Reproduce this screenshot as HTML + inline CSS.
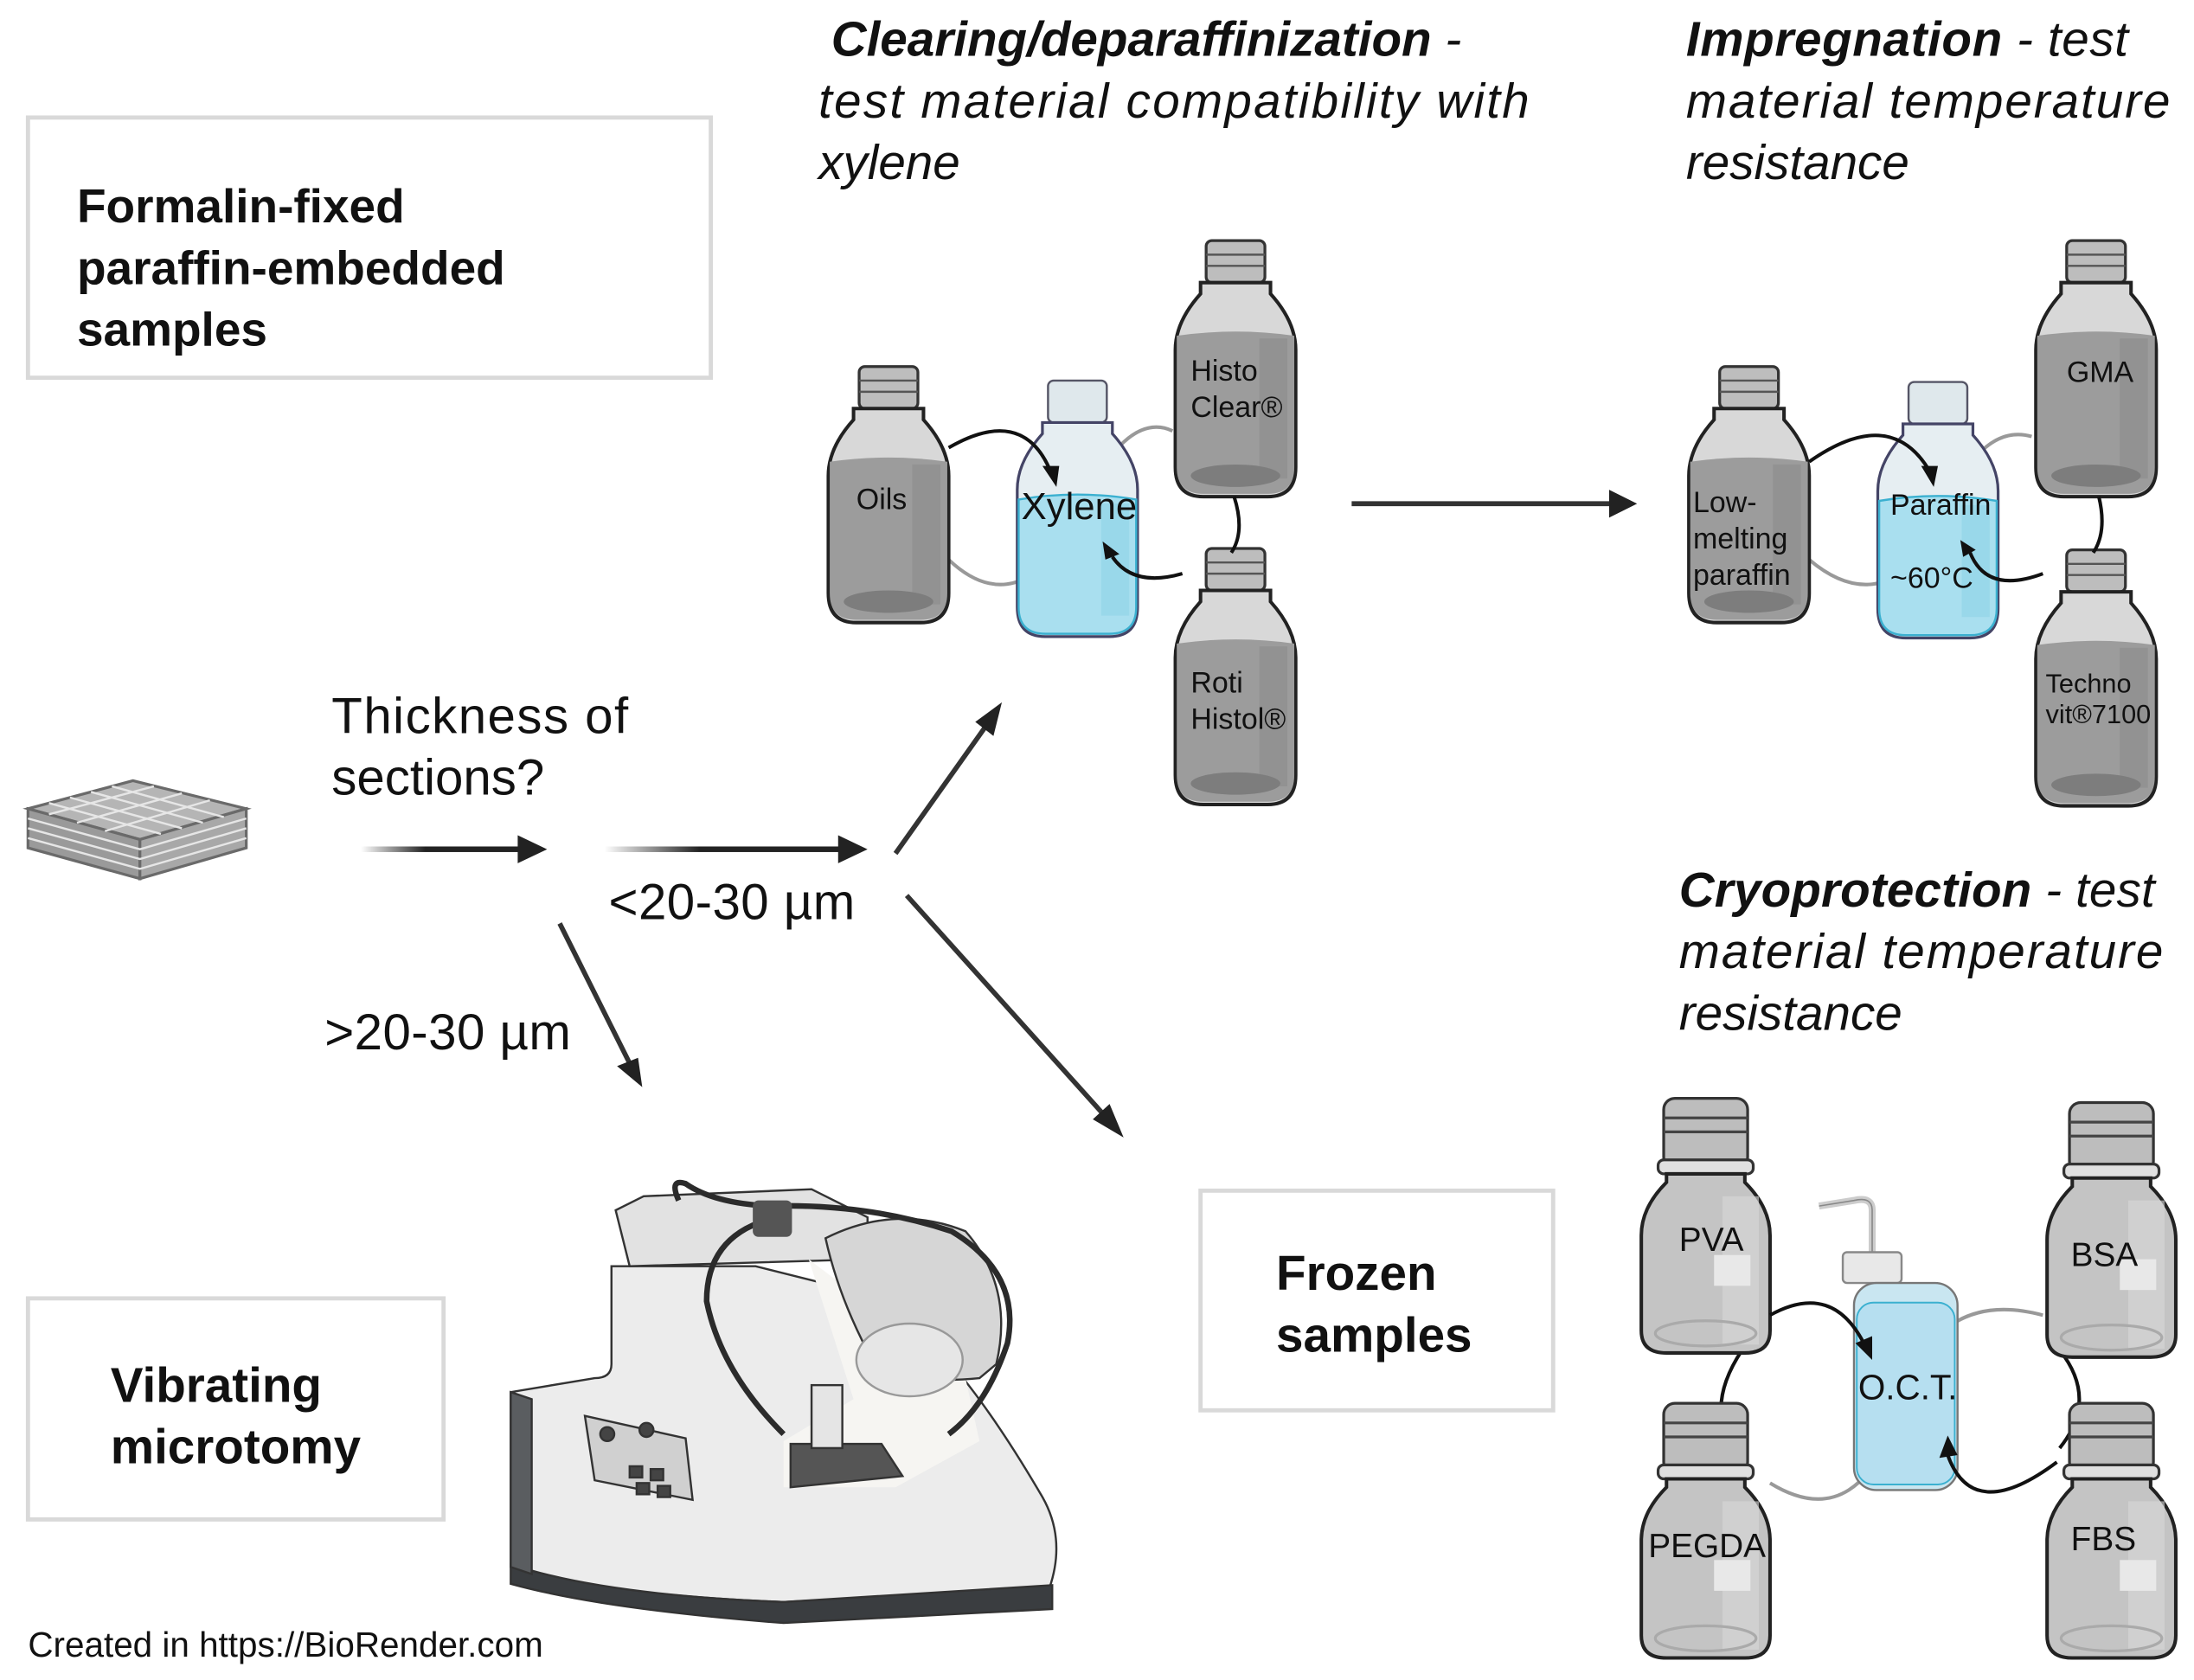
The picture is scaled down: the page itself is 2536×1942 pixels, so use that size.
<!DOCTYPE html>
<html><head><meta charset="utf-8"><style>
html,body{margin:0;padding:0;background:#fff;overflow:hidden}
svg{display:block}
text{font-family:"Liberation Sans",sans-serif;fill:#111}
</style></head><body>
<svg width="2536" height="1942" viewBox="0 0 1568 1200.75" preserveAspectRatio="none" xmlns="http://www.w3.org/2000/svg">
<defs>
<linearGradient id="fadeH" x1="0" x2="1" y1="0" y2="0"><stop offset="0" stop-color="#222" stop-opacity="0"/><stop offset="0.4" stop-color="#222"/></linearGradient>
<g id="bottleG">
<rect x="24" y="0" width="42" height="30" rx="4" fill="#bdbdbd" stroke="#333" stroke-width="2"/>
<line x1="24" y1="10" x2="66" y2="10" stroke="#555" stroke-width="1.5"/><line x1="24" y1="18" x2="66" y2="18" stroke="#555" stroke-width="1.5"/>
<path d="M20,30 L70,30 L70,38 Q88,58 88,78 L88,162 Q88,183 68,183 L22,183 Q2,183 2,162 L2,78 Q2,58 20,38 Z" fill="#d8d8d8" stroke="#222" stroke-width="2.5"/>
<path d="M3,68 Q45,62 87,68 L87,162 Q87,181 68,181 L22,181 Q3,181 3,162 Z" fill="#9c9c9c"/>
<rect x="62" y="70" width="20" height="100" fill="#888" opacity="0.5"/>
<ellipse cx="45" cy="168" rx="32" ry="8" fill="#7d7d7d"/>
</g>
<g id="bottleB">
<rect x="24" y="0" width="42" height="30" rx="4" fill="#dfe8ec" stroke="#556" stroke-width="1.5"/>
<path d="M20,30 L70,30 L70,38 Q88,58 88,78 L88,162 Q88,183 68,183 L22,183 Q2,183 2,162 L2,78 Q2,58 20,38 Z" fill="#e6eef2" stroke="#446" stroke-width="2"/>
<path d="M3,85 Q45,78 87,85 L87,162 Q87,181 68,181 L22,181 Q3,181 3,162 Z" fill="#a9dfef" stroke="#3bb0d0" stroke-width="1.5"/>
<rect x="62" y="88" width="20" height="80" fill="#8fd3e6" opacity="0.6"/>
</g>
<g id="bottleC">
<rect x="16" y="0" width="60" height="50" rx="8" fill="#bdbdbd" stroke="#333" stroke-width="2"/>
<line x1="16" y1="14" x2="76" y2="14" stroke="#444" stroke-width="2"/><line x1="16" y1="24" x2="76" y2="24" stroke="#444" stroke-width="2"/>
<rect x="12" y="44" width="68" height="10" rx="4" fill="#e0e0e0" stroke="#333" stroke-width="2"/>
<path d="M18,54 L74,54 L74,60 Q92,78 92,98 L92,166 Q92,182 74,182 L18,182 Q0,182 0,166 L0,98 Q0,78 18,60 Z" fill="#c4c4c4" stroke="#222" stroke-width="2.5"/>
<rect x="58" y="70" width="26" height="106" fill="#d8d8d8" opacity="0.6"/>
<rect x="52" y="112" width="26" height="22" fill="#e8e8e8"/>
<ellipse cx="46" cy="168" rx="36" ry="9" fill="none" stroke="#aaa" stroke-width="2"/>
</g>
</defs>

<!-- Boxes -->
<rect x="20" y="84" width="488" height="186" fill="none" stroke="#d9d9d9" stroke-width="3"/>
<text x="55" y="159" font-size="34" font-weight="bold">Formalin-fixed</text>
<text x="55" y="203" font-size="34" font-weight="bold">paraffin-embedded</text>
<text x="55" y="247" font-size="34" font-weight="bold">samples</text>

<rect x="858" y="851" width="252" height="157" fill="none" stroke="#d9d9d9" stroke-width="3"/>
<text x="912" y="922" font-size="35" font-weight="bold">Frozen</text>
<text x="912" y="966" font-size="35" font-weight="bold">samples</text>

<rect x="20" y="928" width="297" height="158" fill="none" stroke="#d9d9d9" stroke-width="3"/>
<text x="79" y="1002" font-size="35" font-weight="bold">Vibrating</text>
<text x="79" y="1046" font-size="35" font-weight="bold">microtomy</text>

<!-- Headers -->
<text x="594" y="40" font-size="35" font-style="italic"><tspan font-weight="bold">Clearing/deparaffinization</tspan> -</text>
<text x="585" y="84" font-size="35" font-style="italic" textLength="508">test material compatibility with</text>
<text x="585" y="128" font-size="35" font-style="italic">xylene</text>
<text x="1205" y="40" font-size="35" font-style="italic" textLength="316"><tspan font-weight="bold">Impregnation</tspan> - test</text>
<text x="1205" y="84" font-size="35" font-style="italic" textLength="346">material temperature</text>
<text x="1205" y="128" font-size="35" font-style="italic">resistance</text>
<text x="1200" y="648" font-size="35" font-style="italic" textLength="340"><tspan font-weight="bold">Cryoprotection</tspan> - test</text>
<text x="1200" y="692" font-size="35" font-style="italic" textLength="346">material temperature</text>
<text x="1200" y="736" font-size="35" font-style="italic">resistance</text>

<!-- Scaffold cube -->
<g stroke="#6a6a6a" stroke-width="2">
<path d="M20,578 L95,558 L176,578 L100,600 Z" fill="#b5b5b5"/>
<path d="M20,578 L100,600 L100,628 L20,606 Z" fill="#9a9a9a"/>
<path d="M100,600 L176,578 L176,606 L100,628 Z" fill="#a8a8a8"/>
</g>
<g stroke="#e6e6e6" stroke-width="1.5" fill="none">
<path d="M20,585 L100,607 L176,585 M20,592 L100,614 L176,592 M20,599 L100,621 L176,599"/>
<path d="M35,574 L115,596 M50,570 L130,592 M65,566 L145,588 M80,562 L160,584 M35,582 L110,562 M55,588 L130,567 M75,594 L150,572"/>
</g>

<!-- Text center -->
<text x="237" y="524" font-size="36" textLength="212">Thickness of</text>
<text x="237" y="568" font-size="36">sections?</text>
<text x="435" y="657" font-size="36" textLength="176">&lt;20-30 µm</text>
<text x="232" y="750" font-size="36" textLength="176">&gt;20-30 µm</text>

<!-- Main arrows -->
<rect x="258" y="605" width="115" height="4" fill="url(#fadeH)"/>
<polygon points="370,597 391,607 370,617" fill="#222"/>
<rect x="432" y="605" width="170" height="4" fill="url(#fadeH)"/>
<polygon points="599,597 620,607 599,617" fill="#222"/>
<g stroke-width="3.5" fill="none" stroke="#333">
<line x1="966" y1="360" x2="1152" y2="360"/>
<line x1="640" y1="610" x2="706" y2="517"/>
<line x1="648" y1="640" x2="790" y2="798"/>
<line x1="400" y1="660" x2="450" y2="760"/>
</g>
<polygon points="1150,350 1170,360 1150,370" fill="#222"/>
<polygon points="716,502 710,526 697,516" fill="#222"/>
<polygon points="803,813 781,800 793,789" fill="#222"/>
<polygon points="459,777 441,762 456,756" fill="#222"/>

<!-- Clearing bottles -->
<path d="M678,400 Q720,440 760,390 Q800,290 838,308" stroke="#999" stroke-width="2.5" fill="none"/>
<use href="#bottleG" x="590" y="262"/>
<use href="#bottleB" x="725" y="272"/>
<use href="#bottleG" x="838" y="172"/>
<use href="#bottleG" x="838" y="392"/>
<g fill="none" stroke-width="2.5" stroke="#111">
<path d="M678,320 Q730,290 750,335"/>
<path d="M882,355 Q890,380 880,395"/>
<path d="M845,410 Q810,420 795,398"/>
</g>
<polygon points="745,333 757,333 755,348" fill="#111"/>
<polygon points="788,387 800,396 790,400" fill="#111"/>
<text x="612" y="364" font-size="21">Oils</text>
<text x="730" y="371" font-size="27">Xylene</text>
<text x="851" y="272" font-size="21">Histo</text>
<text x="851" y="298" font-size="21">Clear®</text>
<text x="851" y="495" font-size="21">Roti</text>
<text x="851" y="521" font-size="21">Histol®</text>

<!-- Impregnation bottles -->
<path d="M1293,400 Q1340,440 1380,390 Q1410,300 1452,312" stroke="#999" stroke-width="2.5" fill="none"/>
<use href="#bottleG" x="1205" y="262"/>
<use href="#bottleB" x="1340" y="273"/>
<use href="#bottleG" x="1453" y="172"/>
<use href="#bottleG" x="1453" y="393"/>
<g fill="none" stroke-width="2.5" stroke="#111">
<path d="M1293,330 Q1350,290 1378,335"/>
<path d="M1500,355 Q1506,380 1496,395"/>
<path d="M1460,410 Q1420,425 1408,395"/>
</g>
<polygon points="1373,333 1385,333 1382,348" fill="#111"/>
<polygon points="1401,386 1412,393 1403,398" fill="#111"/>
<text x="1210" y="366" font-size="21">Low-</text>
<text x="1210" y="392" font-size="21">melting</text>
<text x="1210" y="418" font-size="21">paraffin</text>
<text x="1351" y="368" font-size="21">Paraffin</text>
<text x="1351" y="420" font-size="21">~60°C</text>
<text x="1477" y="273" font-size="21">GMA</text>
<text x="1462" y="495" font-size="19">Techno</text>
<text x="1462" y="517" font-size="19">vit®7100</text>

<!-- Cryo bottles -->
<path d="M1265,1060 Q1330,1100 1360,1000 Q1385,920 1460,940" stroke="#999" stroke-width="2.5" fill="none"/>
<g fill="none" stroke-width="2.5" stroke="#111">
<path d="M1245,965 Q1215,1010 1245,1042"/>
<path d="M1472,965 Q1500,1000 1472,1035"/>
</g>
<use href="#bottleC" x="1173" y="785"/>
<use href="#bottleC" x="1463" y="788"/>
<use href="#bottleC" x="1173" y="1003"/>
<use href="#bottleC" x="1463" y="1003"/>
<!-- OCT wash bottle -->
<path d="M1338,895 L1338,865 Q1338,855 1325,858 L1300,862" fill="none" stroke="#ccc" stroke-width="5"/>
<path d="M1338,895 L1338,865 Q1338,855 1325,858 L1300,862" fill="none" stroke="#888" stroke-width="1"/>
<rect x="1317" y="895" width="42" height="22" rx="3" fill="#e8e8e8" stroke="#888" stroke-width="1.5"/>
<rect x="1325" y="917" width="74" height="148" rx="16" fill="#c9e6f1" stroke="#777" stroke-width="1.5"/>
<rect x="1327" y="931" width="70" height="130" rx="12" fill="#b6dff0" stroke="#3bb0d0" stroke-width="1.2"/>
<g fill="none" stroke-width="2.5" stroke="#111">
<path d="M1265,940 Q1310,915 1333,962"/>
<path d="M1470,1045 Q1410,1090 1392,1040"/>
</g>
<polygon points="1326,960 1338,955 1338,972" fill="#111"/>
<polygon points="1386,1042 1392,1026 1399,1040" fill="#111"/>
<text x="1200" y="894" font-size="24">PVA</text>
<text x="1480" y="905" font-size="24">BSA</text>
<text x="1178" y="1113" font-size="24">PEGDA</text>
<text x="1480" y="1108" font-size="24">FBS</text>
<text x="1328" y="1000" font-size="25">O.C.T.</text>

<!-- Microtome -->
<g stroke="#333" stroke-width="1.5">
<path d="M437,905 L437,975 Q437,985 425,985 L365,995 L365,1120 Q430,1140 560,1145 L750,1135 Q762,1100 745,1070 Q710,1010 680,975 L640,930 L540,905 Z" fill="#ececec"/>
<path d="M365,1118 L365,1132 Q430,1150 560,1160 L752,1150 L752,1133 L560,1145 Q430,1140 365,1118 Z" fill="#3a3d40"/>
<path d="M365,995 L365,1120 L380,1125 L380,1000 Z" fill="#5a5d60"/>
<path d="M440,865 L460,855 L580,850 L620,870 L620,900 L450,905 Z" fill="#e2e2e2"/>
<path d="M578,900 L610,1000 L560,1030 L560,1063 L640,1063 L700,1030 L690,985 Z" fill="#f6f5f2" stroke="none"/>
<path d="M590,885 Q640,860 690,880 Q725,920 712,975 L700,985 Q650,990 625,975 Q600,930 590,885 Z" fill="#d6d6d6"/>
<ellipse cx="650" cy="972" rx="38" ry="26" fill="#e6e6e6" stroke="#999"/>
<path d="M565,1032 L630,1032 L645,1055 L565,1063 Z" fill="#555"/>
<rect x="580" y="990" width="22" height="45" fill="#e5e5e5"/>
<path d="M418,1012 L490,1028 L495,1072 L425,1058 Z" fill="#d0d0d0"/>
<circle cx="434" cy="1025" r="5" fill="#444"/><circle cx="462" cy="1022" r="5" fill="#444"/>
<rect x="450" y="1048" width="9" height="8" fill="#444"/><rect x="465" y="1050" width="9" height="8" fill="#444"/><rect x="455" y="1060" width="9" height="8" fill="#444"/><rect x="470" y="1062" width="9" height="8" fill="#444"/>
</g>
<path d="M485,858 Q478,842 490,846 Q510,860 550,862 Q620,860 680,880 Q730,910 720,960 Q705,1005 678,1025" fill="none" stroke="#2b2b2b" stroke-width="4"/>
<path d="M548,872 Q505,885 505,930 Q515,980 560,1025" fill="none" stroke="#2b2b2b" stroke-width="4"/>
<rect x="538" y="858" width="28" height="26" rx="4" fill="#555"/>

<text x="20" y="1184" font-size="25">Created in https://BioRender.com</text>
</svg>
</body></html>
